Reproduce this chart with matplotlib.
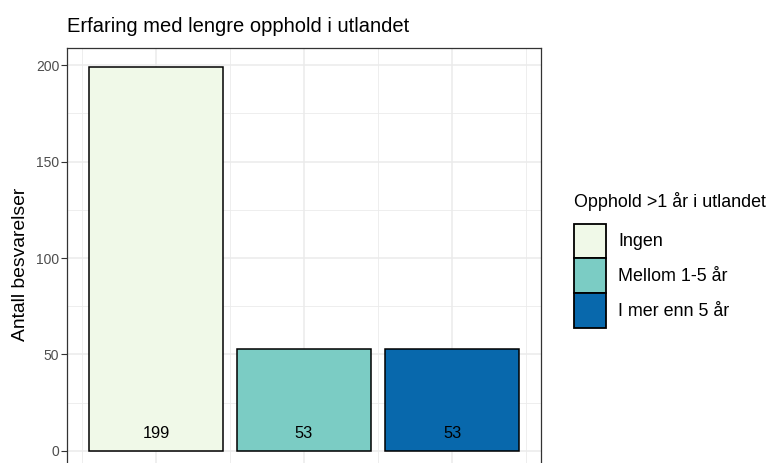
import matplotlib
matplotlib.use("Agg")
import matplotlib.pyplot as plt
from matplotlib.patches import Patch
from matplotlib.ticker import MultipleLocator

plt.rcParams['font.family'] = ['Liberation Sans', 'DejaVu Sans']

# data
categories = ["Ingen", "Mellom 1-5 år", "I mer enn 5 år"]
counts = [199, 53, 53]
colors = ["#F0F9E8", "#7BCCC4", "#0868AC"]

W, H = 769, 463
fig = plt.figure(figsize=(W / 100, H / 100), dpi=100)
ax = fig.add_axes([67 / W, (H - 470) / H, (541 - 67) / W, (470 - 48) / H])

xpos = [1, 2, 3]
ax.bar(xpos, counts, width=0.9, color=colors, edgecolor="black", linewidth=1.1, zorder=3)
for x, c in zip(xpos, counts):
    ax.text(x, 10, str(c), ha="center", va="center_baseline", fontsize=11.8,
            color="black", zorder=4)

ax.set_xlim(0.4, 3.6)
ax.set_ylim(-9.95, 208.95)
ax.set_xticks(xpos)
ax.set_xticklabels([])
ax.xaxis.set_minor_locator(MultipleLocator(0.5))
ax.set_yticks([0, 50, 100, 150, 200])
ax.yaxis.set_minor_locator(MultipleLocator(25))
ax.grid(which="major", color="#EBEBEB", linewidth=1.1, zorder=0)
ax.grid(which="minor", color="#EBEBEB", linewidth=0.6, zorder=0)
ax.tick_params(axis="y", which="major", length=4, width=0.8, color="#333333",
               labelsize=10, labelcolor="#4D4D4D", pad=1.5)
ax.tick_params(axis="x", which="major", length=0)
ax.tick_params(which="minor", length=0)
for s in ax.spines.values():
    s.set_color("#333333")
    s.set_linewidth(0.9)

ax.set_ylabel("Antall besvarelser", fontsize=13.9)
ax.yaxis.set_label_coords((29 - 67) / 474, 0.488)
fig.text(67 / W, 1 - 27 / H, "Erfaring med lengre opphold i utlandet",
         fontsize=14.5, ha="left", va="center")

handles = [Patch(facecolor=c, edgecolor="black", linewidth=1.3) for c in colors]
leg = ax.legend(handles, categories, title="Opphold >1 år i utlandet",
                loc="upper left", bbox_to_anchor=(574 / W, 1 - 192 / H),
                bbox_transform=fig.transFigure, frameon=False,
                fontsize=12.9, title_fontsize=12.9, handlelength=1.8,
                handleheight=2.55, handletextpad=0.65, labelspacing=0.05,
                borderpad=0, borderaxespad=0, alignment="left")
leg._legend_box.sep = 9

fig.savefig("out.png", dpi=100)
